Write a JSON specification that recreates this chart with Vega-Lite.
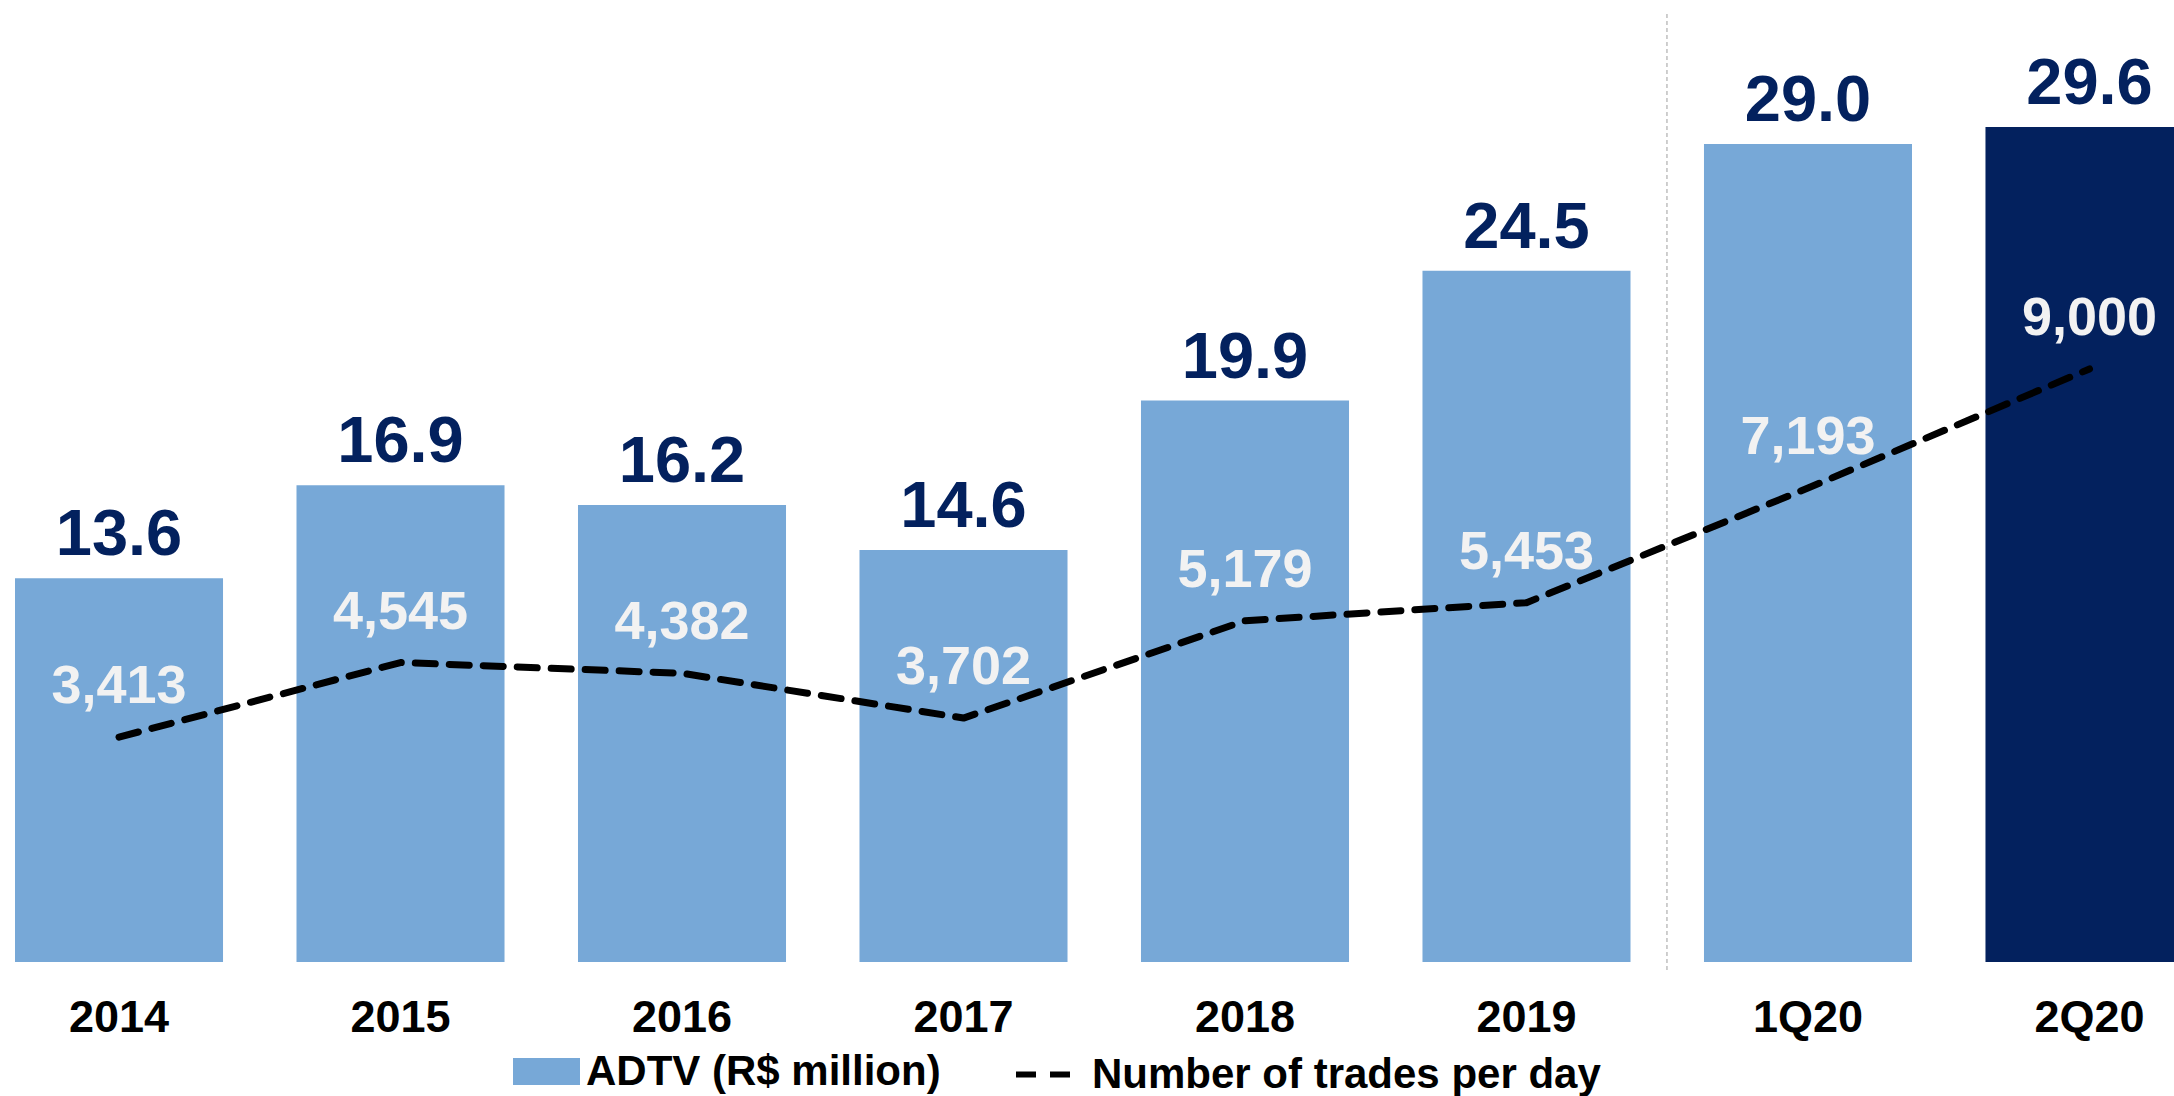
{
  "$schema": "https://vega.github.io/schema/vega-lite/v6.json",
  "width": 2114,
  "height": 962,
  "autosize": {"type": "none"},
  "padding": {"left": 0, "right": 60, "top": 0, "bottom": 134},
  "background": "white",
  "config": {
    "view": {"stroke": null},
    "font": "Liberation Sans",
    "legend": {
      "layout": {"bottom": {"anchor": "middle", "direction": "horizontal", "margin": 72}}
    }
  },
  "data": {
    "values": [
      {"period": "2014", "adtv": 13.6, "trades": 3413},
      {"period": "2015", "adtv": 16.9, "trades": 4545},
      {"period": "2016", "adtv": 16.2, "trades": 4382},
      {"period": "2017", "adtv": 14.6, "trades": 3702},
      {"period": "2018", "adtv": 19.9, "trades": 5179},
      {"period": "2019", "adtv": 24.5, "trades": 5453},
      {"period": "1Q20", "adtv": 29.0, "trades": 7193},
      {"period": "2Q20", "adtv": 29.6, "trades": 9000}
    ]
  },
  "encoding": {
    "x": {
      "field": "period",
      "type": "nominal",
      "sort": null,
      "scale": {
        "domain": ["2014", "2015", "2016", "2017", "2018", "2019", "1Q20", "2Q20"],
        "range": [15, 2193.5],
        "paddingInner": 0.261,
        "paddingOuter": 0
      },
      "axis": {
        "title": null,
        "domain": false,
        "ticks": false,
        "labelAngle": 0,
        "labelFont": "Liberation Sans",
        "labelFontWeight": "bold",
        "labelFontSize": 45,
        "labelColor": "#000000",
        "labelPadding": 33
      }
    }
  },
  "layer": [
    {
      "mark": {"type": "bar"},
      "encoding": {
        "y": {"field": "adtv", "type": "quantitative", "scale": {"domain": [0, 34.1]}, "axis": null},
        "color": {
          "condition": {"test": "datum.period === '2Q20'", "value": "#03215E"},
          "datum": "ADTV (R$ million)",
          "type": "nominal",
          "scale": {"range": ["#77A8D7"]},
          "legend": {
            "title": null,
            "orient": "bottom",
            "direction": "horizontal",
            "symbolType": "M-1,-0.4H1V0.4H-1Z",
            "symbolSize": 4489,
            "symbolStrokeWidth": 0,
            "labelFont": "Liberation Sans",
            "labelFontWeight": "bold",
            "labelFontSize": 42,
            "labelColor": "#000000",
            "labelLimit": 600,
            "labelOffset": 6,
            "offset": -2
          }
        }
      }
    },
    {
      "mark": {"type": "text", "baseline": "middle", "dy": -43, "font": "Liberation Sans", "fontWeight": "bold", "fontSize": 65, "color": "#03215E"},
      "encoding": {
        "y": {"field": "adtv", "type": "quantitative", "scale": {"domain": [0, 34.1]}, "axis": null},
        "text": {"field": "adtv", "type": "quantitative", "format": ".1f"}
      }
    },
    {
      "mark": {"type": "line", "interpolate": "linear", "color": "#000000", "strokeWidth": 7, "strokeCap": "round", "strokeJoin": "round"},
      "encoding": {
        "y": {"field": "trades", "type": "quantitative", "scale": {"domain": [0, 14600]}, "axis": null},
        "strokeDash": {
          "datum": "Number of trades per day",
          "type": "nominal",
          "scale": {"range": [[20, 14]]},
          "legend": {
            "title": null,
            "orient": "bottom",
            "direction": "horizontal",
            "symbolType": "stroke",
            "symbolSize": 4489,
            "symbolStrokeWidth": 6,
            "symbolStrokeColor": "#000000",
            "symbolDash": [12, 8],
            "labelFont": "Liberation Sans",
            "labelFontWeight": "bold",
            "labelFontSize": 42,
            "labelColor": "#000000",
            "labelLimit": 800,
            "labelOffset": 6,
            "offset": -2
          }
        }
      }
    },
    {
      "mark": {"type": "text", "baseline": "middle", "dy": -50, "font": "Liberation Sans", "fontWeight": "bold", "fontSize": 54, "color": "#F2F2F2"},
      "encoding": {
        "y": {"field": "trades", "type": "quantitative", "scale": {"domain": [0, 14600]}, "axis": null},
        "text": {"field": "trades", "type": "quantitative", "format": ",d"}
      }
    },
    {
      "data": {"values": [{"period": "1Q20", "top": 33.6, "bottom": -0.3}]},
      "mark": {"type": "rule", "color": "#BFBFBF", "strokeWidth": 1.5, "strokeDash": [4, 3]},
      "encoding": {
        "x": {"field": "period", "type": "nominal", "bandPosition": -0.178},
        "y": {"field": "top", "type": "quantitative", "scale": {"domain": [0, 34.1]}, "axis": null},
        "y2": {"field": "bottom"}
      }
    }
  ],
  "resolve": {"scale": {"y": "independent"}}
}
